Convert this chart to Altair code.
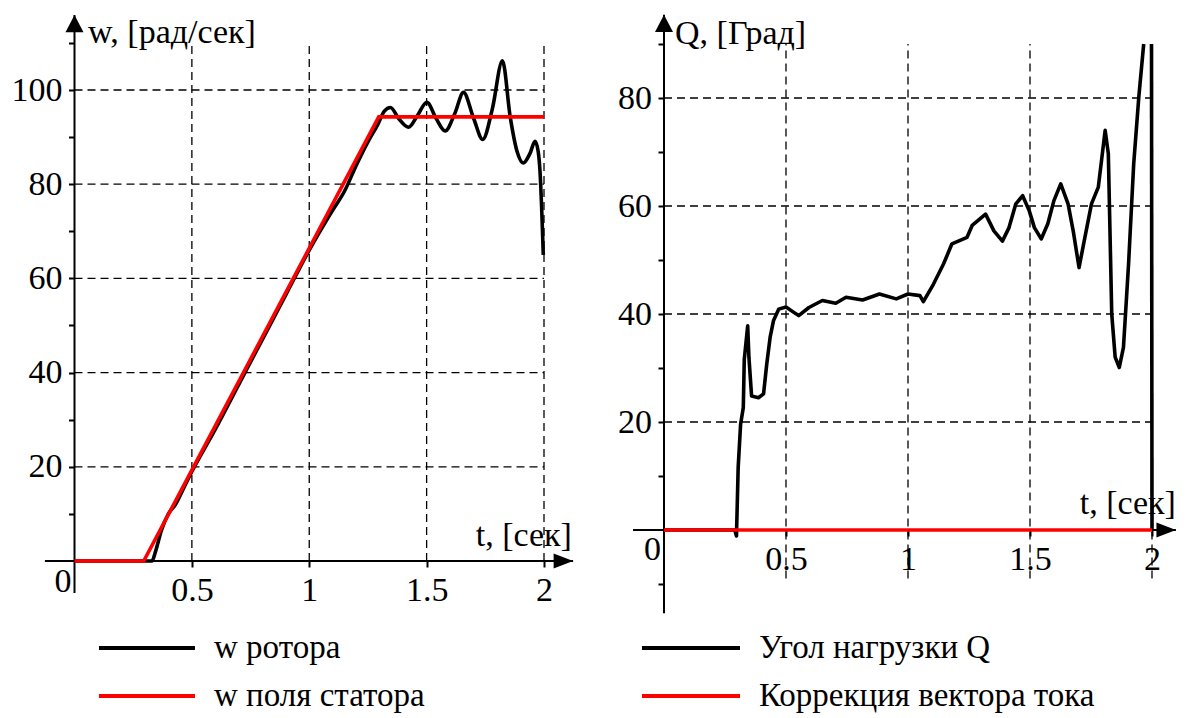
import altair as alt
import pandas as pd

FONT = "'Liberation Serif', 'Times New Roman', 'DejaVu Serif', serif"

# ---------------- data ----------------
# left panel: rotor speed / stator field speed
ROTOR_T = [0.0, 0.33, 0.345, 0.37, 0.40, 0.43, 0.47, 0.50, 0.60, 0.70, 0.80, 0.90, 1.00, 1.10,
           1.15, 1.20, 1.25, 1.29, 1.32, 1.346, 1.38, 1.423, 1.46, 1.501, 1.54, 1.579, 1.62,
           1.657, 1.70, 1.739, 1.78, 1.823, 1.856, 1.885, 1.912, 1.94, 1.962, 1.975, 1.983,
           1.99, 1.997]
ROTOR_W = [0.0, 0.0, 2.0, 6.5, 10.0, 12.0, 16.0, 19.0, 28.0, 37.5, 47.0, 56.5, 66.0, 74.5,
           78.5, 84.0, 89.0, 92.5, 95.5, 96.3, 94.0, 92.1, 94.5, 97.4, 94.0, 91.3, 95.0,
           99.5, 94.0, 89.5, 96.0, 106.2, 94.3, 87.0, 84.5, 86.5, 89.1, 87.0, 82.7,
           75.0, 65.0]
FIELD_T = [0.0, 0.295, 1.296, 2.0]
FIELD_W = [0.0, 0.0, 94.3, 94.3]

# right panel: load angle / current vector correction
Q_T = [0.0, 0.29, 0.297, 0.304, 0.314, 0.325, 0.329, 0.343, 0.348, 0.359, 0.387, 0.408, 0.421,
       0.435, 0.449, 0.470, 0.500, 0.532, 0.552, 0.594, 0.649, 0.704, 0.746, 0.814, 0.883,
       0.952, 1.000, 1.049, 1.063, 1.104, 1.146, 1.180, 1.242, 1.263, 1.318, 1.352, 1.387,
       1.414, 1.442, 1.470, 1.497, 1.518, 1.546, 1.573, 1.598, 1.626, 1.656, 1.677, 1.701,
       1.725, 1.752, 1.780, 1.808, 1.821, 1.835, 1.849, 1.866, 1.883, 1.904, 1.925, 1.946,
       1.966, 1.998, 2.000]
Q_V = [0.0, 0.0, -1.1, 11.6, 19.6, 22.7, 31.6, 37.8, 32.0, 24.8, 24.5, 25.2, 30.7,
       35.7, 38.8, 40.9, 41.3, 40.3, 39.7, 41.2, 42.5, 42.0, 43.1, 42.6, 43.7,
       42.8, 43.7, 43.4, 42.3, 45.5, 49.3, 53.0, 54.2, 56.4, 58.5, 55.4, 53.5,
       56.0, 60.4, 61.9, 59.1, 56.0, 53.9, 56.7, 61.0, 64.1, 60.4, 55.4, 48.6,
       54.2, 60.4, 63.5, 74.0, 69.7, 40.0, 32.0, 30.1, 33.8, 49.3, 67.8, 80.2,
       90.0, 90.0, 0.0]
Q_SEG = [1] * 62 + [2, 2]
CORR_T = [0.0, 2.0]
CORR_V = [0.0, 0.0]

LEFT_SERIES = ["w ротора", "w поля статора"]
RIGHT_SERIES = ["Угол нагрузки Q", "Коррекция вектора тока"]
SERIES_COLORS = ["black", "red"]

X_TICKS = [0.5, 1, 1.5, 2]
LEFT_Y_TICKS = [10, 20, 30, 40, 50, 60, 70, 80, 90, 100, 110]
LEFT_Y_GRID = [20, 40, 60, 80, 100]
RIGHT_Y_TICKS = [-10, 10, 20, 30, 40, 50, 60, 70, 80, 90]
RIGHT_Y_GRID = [20, 40, 60, 80]

UP_ARROW = "M0,0L-1,1.9L1,1.9Z"
RIGHT_ARROW = "M0,0L-2.6,-1L-2.6,1Z"


def panel(cfg):
    x0, kx, y0, ky = cfg["x0"], cfg["kx"], cfg["y0"], cfg["ky"]
    left, right, top, bottom = cfg["page_box"]
    width = right - left
    height = bottom - top
    tdom = [(left - x0) / kx, (right - x0) / kx]
    vdom = [(y0 - bottom) / ky, (y0 - top) / ky]
    xs = alt.Scale(domain=tdom, nice=False, zero=False)
    ys = alt.Scale(domain=vdom, nice=False, zero=False)

    xaxis = alt.Axis(values=X_TICKS, labelExpr="'' + datum.value",
                     offset=(y0 - top) - height, domain=False,
                     grid=False, ticks=True, tickSize=6, tickWidth=2, tickColor="black",
                     labelFont=FONT, labelFontSize=34, labelColor="black",
                     labelBaseline="middle", labelPadding=23, labelFlush=False,
                     labelOverlap=False, title=None)
    yaxis = alt.Axis(values=cfg["yticks"],
                     labelExpr="datum.value % 20 == 0 ? '' + datum.value : ''",
                     offset=-(x0 - left), domain=False, grid=False, ticks=True, tickSize=6,
                     tickWidth=2, tickColor="black", labelFont=FONT, labelFontSize=34,
                     labelColor="black", labelPadding=6.5, labelFlush=False,
                     labelOverlap=False, title=None)

    def X(field="t"):
        return alt.X(f"{field}:Q", scale=xs, axis=xaxis)

    def Y(field="v"):
        return alt.Y(f"{field}:Q", scale=ys, axis=yaxis)

    dash = dict(strokeDash=[8, 5], strokeWidth=1.3, color="black")
    hgrid = alt.Chart(pd.DataFrame({"v": cfg["ygrid"], "t": 0.0, "t2": 2.0})).mark_rule(**dash).encode(
        x=X(), x2="t2:Q", y=Y())
    vgrid = alt.Chart(pd.DataFrame({"t": X_TICKS, "v": cfg["vgrid"][0], "v2": cfg["vgrid"][1]})).mark_rule(**dash).encode(
        x=X(), y=Y(), y2="v2:Q")

    ax_x = alt.Chart(pd.DataFrame({"t": [cfg["xaxis_ext"][0]], "t2": [cfg["xaxis_ext"][1]], "v": [0.0]})).mark_rule(
        color="black", strokeWidth=2).encode(x=X(), x2="t2:Q", y=Y())
    ax_y = alt.Chart(pd.DataFrame({"t": [0.0], "v": [cfg["yaxis_ext"][0]], "v2": [cfg["yaxis_ext"][1]]})).mark_rule(
        color="black", strokeWidth=2).encode(x=X(), y=Y(), y2="v2:Q")

    arr_up = alt.Chart(pd.DataFrame({"t": [0.0], "v": [cfg["yaxis_ext"][1]]})).mark_point(
        shape=UP_ARROW, size=324, filled=True, color="black", opacity=1, strokeWidth=0).encode(x=X(), y=Y())
    arr_rt = alt.Chart(pd.DataFrame({"t": [cfg["xaxis_ext"][1]], "v": [0.0]})).mark_point(
        shape=RIGHT_ARROW, size=225, filled=True, color="black", opacity=1, strokeWidth=0).encode(x=X(), y=Y())

    legend = alt.Legend(orient="none", legendX=cfg["legend_xy"][0], legendY=cfg["legend_xy"][1],
                        title=None, symbolType="stroke", symbolSize=cfg["sym_len"] ** 2,
                        symbolStrokeWidth=4, clipHeight=30, rowPadding=15, labelOffset=17,
                        labelFont=FONT, labelFontSize=33, labelColor="black", labelLimit=900,
                        padding=0, symbolOffset=0)
    color = alt.Color("series:N", scale=alt.Scale(domain=cfg["series"], range=SERIES_COLORS),
                      legend=legend)

    d1 = pd.DataFrame({"t": cfg["s1"][0], "v": cfg["s1"][1], "seg": cfg["s1"][2],
                       "series": cfg["series"][0]})
    d2 = pd.DataFrame({"t": cfg["s2"][0], "v": cfg["s2"][1], "series": cfg["series"][1]})
    line1 = alt.Chart(d1).mark_line(strokeWidth=3.6, interpolate=cfg["interp"], strokeJoin="round").encode(
        x=X(), y=Y(), color=color, detail="seg:N", order="t:Q")
    line2 = alt.Chart(d2).mark_line(strokeWidth=3.6).encode(x=X(), y=Y(), color=color)

    texts = []
    for (t, v, label, align, baseline, dx, dy) in cfg["texts"]:
        texts.append(alt.Chart(pd.DataFrame({"t": [t], "v": [v], "label": [label]})).mark_text(
            align=align, baseline=baseline, dx=dx, dy=dy, font=FONT, fontSize=34, color="black").encode(
            x=X(), y=Y(), text="label:N"))

    layers = [hgrid, vgrid, ax_x, ax_y, arr_up, arr_rt, line1, line2] + texts
    return alt.layer(*layers).properties(width=width, height=height)


left_cfg = dict(
    x0=74.5, kx=234.75, y0=561.0, ky=4.71, page_box=(8, 598, 8, 620),
    yticks=LEFT_Y_TICKS, ygrid=LEFT_Y_GRID, vgrid=(0.0, 110.0),
    xaxis_ext=(-0.126, 2.124), yaxis_ext=(-6.8, 115.9),
    legend_xy=(89, 625), sym_len=96, series=LEFT_SERIES,
    s1=(ROTOR_T, ROTOR_W, [1] * len(ROTOR_T)), s2=(FIELD_T, FIELD_W), interp="monotone",
    texts=[(0.0, 115.9, "w, [рад/сек]", "left", "alphabetic", 13.5, 28),
           (2.119, 0.0, "t, [сек]", "right", "alphabetic", 0, -15),
           (0.0, 0.0, "0", "right", "middle", -3, 21)],
)
right_cfg = dict(
    x0=664.0, kx=244.0, y0=530.0, ky=5.4, page_box=(598, 1178, 8, 620),
    yticks=RIGHT_Y_TICKS, ygrid=RIGHT_Y_GRID, vgrid=(-9.0, 90.0),
    xaxis_ext=(-0.127, 2.098), yaxis_ext=(-15.4, 95.4),
    legend_xy=(42, 625), sym_len=98, series=RIGHT_SERIES,
    s1=(Q_T, Q_V, Q_SEG), s2=(CORR_T, CORR_V), interp="linear",
    texts=[(0.0, 95.4, "Q, [Град]", "left", "alphabetic", 11, 29),
           (2.098, 0.0, "t, [сек]", "right", "alphabetic", 0, -16),
           (0.0, 0.0, "0", "right", "middle", -3, 20)],
)

chart = alt.hconcat(panel(left_cfg), panel(right_cfg), spacing=0).resolve_scale(
    x="independent", y="independent", color="independent").resolve_legend(
    color="independent").configure_view(stroke=None).properties(padding=0, background="white")

chart.save("out.html", embed_options={"renderer": "svg", "actions": False})
